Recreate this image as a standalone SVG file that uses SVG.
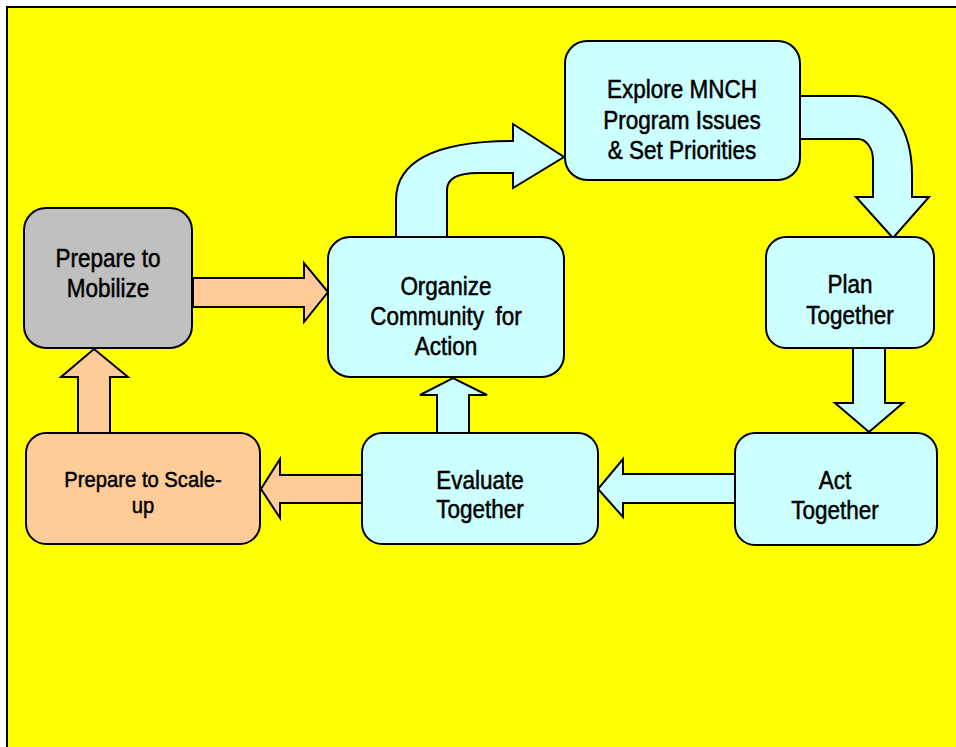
<svg xmlns="http://www.w3.org/2000/svg" width="956" height="747" viewBox="0 0 956 747">
<style>
.box{stroke:#000;stroke-width:2}
.cy{fill:#CCFFFF}
.pe{fill:#FFCC99}
.gr{fill:#C0C0C0}
.arr{stroke:#000;stroke-width:2;stroke-linejoin:miter}
.t{font-family:"Liberation Sans",Arial,sans-serif;font-size:25px;fill:#000;stroke:#000;stroke-width:0.5;text-anchor:middle}
.s{font-size:22px}
</style>
<rect x="0" y="0" width="956" height="747" fill="#fff"/>
<rect x="7" y="7" width="960" height="750" fill="#FFFF00" stroke="#000" stroke-width="2"/>
<g id="connectors">
  <path class="arr pe" d="M193,278 L304,278 L304,263 L328,292 L304,322 L304,307 L193,307 Z"/>
  <path class="arr pe" d="M78,432 L78,377 L61,377 L94,349 L128,377 L110,377 L110,432"/>
  <path class="arr pe" d="M362,475 L280,475 L280,459 L261,489 L280,518 L280,503 L362,503"/>
  <path class="arr cy" d="M735,474 L623,474 L623,459 L598,489 L623,517 L623,503 L735,503"/>
  <path class="arr cy" d="M437,433 L437,395 L420,395 L453,378 L487,395 L469,395 L469,433"/>
  <path class="arr cy" d="M853,348 L853,403 L835,403 L869,432 L903,403 L885,403 L885,348"/>
  <path class="arr cy" d="M396,237 L396,200 C396,163 432,141 513,141 L513,124 L564,157 L513,188 L513,173 L478,173 C458,173 447,178 447,190 L447,237"/>
  <path class="arr cy" d="M800,96 L855,96 C893,96 912,133 912,175 L912,197 L929,197 L893,238 L856,197 L873,197 L873,160 C873,148 866,139 858,139 L800,139"/>
</g>
<g id="mobilize">
  <rect class="box gr" x="24" y="208" width="168" height="140" rx="22"/>
  <text class="t" transform="translate(108,0) scale(0.9,1)"><tspan x="0" y="267">Prepare to</tspan><tspan x="0" y="297">Mobilize</tspan></text>
</g>
<g id="organize">
  <rect class="box cy" x="328" y="237" width="236" height="140" rx="22"/>
  <text class="t" transform="translate(446,0) scale(0.9,1)"><tspan x="0" y="295">Organize</tspan><tspan x="0" y="325">Community <tspan dx="6">for</tspan></tspan><tspan x="0" y="355">Action</tspan></text>
</g>
<g id="explore">
  <rect class="box cy" x="565" y="41" width="235" height="139" rx="22"/>
  <text class="t" transform="translate(682,0) scale(0.9,1)"><tspan x="0" y="98">Explore MNCH</tspan><tspan x="0" y="129">Program Issues</tspan><tspan x="0" y="159">&amp; Set Priorities</tspan></text>
</g>
<g id="plan">
  <rect class="box cy" x="766" y="237" width="168" height="111" rx="20"/>
  <text class="t" transform="translate(850,0) scale(0.9,1)"><tspan x="0" y="293">Plan</tspan><tspan x="0" y="324">Together</tspan></text>
</g>
<g id="act">
  <rect class="box cy" x="735" y="433" width="202" height="112" rx="20"/>
  <text class="t" transform="translate(835,0) scale(0.9,1)"><tspan x="0" y="489">Act</tspan><tspan x="0" y="519">Together</tspan></text>
</g>
<g id="evaluate">
  <rect class="box cy" x="362" y="433" width="236" height="111" rx="20"/>
  <text class="t" transform="translate(480,0) scale(0.9,1)"><tspan x="0" y="489">Evaluate</tspan><tspan x="0" y="518">Together</tspan></text>
</g>
<g id="scaleup">
  <rect class="box pe" x="26" y="433" width="234" height="111" rx="20"/>
  <text class="t s" transform="translate(143,0) scale(0.92,1)"><tspan x="0" y="487">Prepare to Scale-</tspan><tspan x="0" y="513">up</tspan></text>
</g>
</svg>
